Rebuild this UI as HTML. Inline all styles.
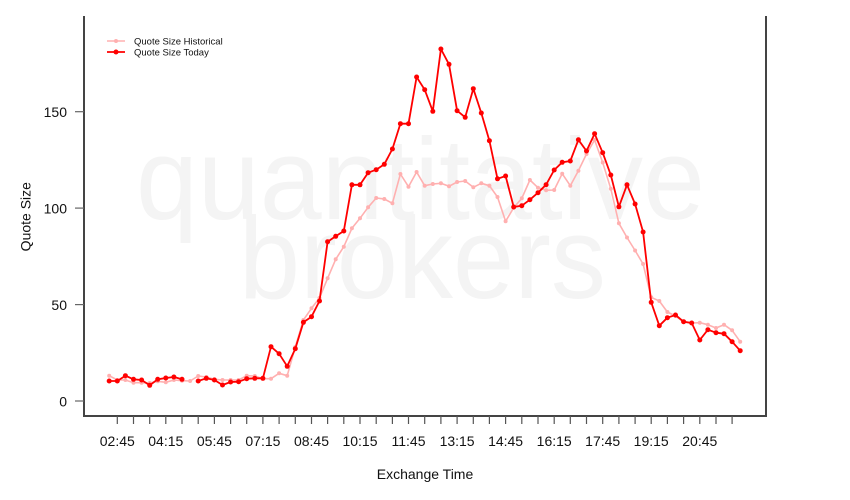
<!DOCTYPE html>
<html>
<head>
<meta charset="utf-8">
<style>
html,body{margin:0;padding:0;background:#fff;}
svg{display:block;font-family:"Liberation Sans",Arial,sans-serif;}
</style>
</head>
<body>
<svg width="850" height="500" viewBox="0 0 850 500" xmlns="http://www.w3.org/2000/svg">
<defs>
<marker id="mp" markerWidth="6" markerHeight="6" refX="3" refY="3" markerUnits="userSpaceOnUse"><circle cx="3" cy="3" r="2" fill="#ffb0b0"/></marker>
<marker id="mr" markerWidth="7" markerHeight="7" refX="3.5" refY="3.5" markerUnits="userSpaceOnUse"><circle cx="3.5" cy="3.5" r="2.5" fill="#ff0000"/></marker>
</defs>
<rect width="850" height="500" fill="#fff"/>
<!-- watermark -->
<text x="420.5" y="219" font-size="116" fill="#f4f4f4" text-anchor="middle" textLength="569" lengthAdjust="spacingAndGlyphs">quantitative</text>
<text x="422.4" y="298" font-size="116" fill="#f4f4f4" text-anchor="middle" textLength="367" lengthAdjust="spacingAndGlyphs">brokers</text>

<!-- historical -->
<polyline fill="none" stroke="#ffb0b0" stroke-width="1.6" stroke-linejoin="round" marker-start="url(#mp)" marker-mid="url(#mp)" marker-end="url(#mp)"
points="109.2,375.7 117.3,380 125.4,380 133.5,382.7 141.6,382.7 149.7,383 157.7,381.3 165.8,382.3 173.9,380 182,380.7 190.1,381 198.2,376 206.3,377 214.4,379.3 222.5,380 230.6,380 238.6,380 246.7,375.7 254.8,376 262.9,378.7 271,378.7 279.1,373.3 287.2,375.7 295.3,347 303.4,320 311.5,308.3 319.5,298 327.6,278.3 335.7,259.3 343.8,246.7 351.9,228.3 360,218.3 368.1,207.3 376.2,198 384.3,199 392.4,203.3 400.4,174 408.5,186.7 416.6,172 424.7,185.7 432.8,184 440.9,183.3 449,186.3 457.1,182 465.2,181 473.3,187.3 481.3,183.3 489.4,185.7 497.5,197 505.6,221.3 513.7,207.7 521.8,198.3 529.9,180 538,187.7 546.1,190.3 554.2,190 562.2,173.7 570.3,185.7 578.4,170.7 586.5,154 594.6,140 602.7,162.5 610.8,188.8 618.9,223.3 627,237.5 635.1,250.5 643.1,264 651.2,297.3 659.3,301 667.4,312 675.5,316 683.6,322 691.7,323 699.8,322.7 707.9,324.7 716,328 724,324.7 732.1,330.3 740.2,341.7"/>

<!-- today -->
<polyline fill="none" stroke="#ff0000" stroke-width="1.8" stroke-linejoin="round" marker-start="url(#mr)" marker-mid="url(#mr)" marker-end="url(#mr)"
points="109.2,381 117.3,381 125.4,375.7 133.5,379.3 141.6,380 149.7,385.3 157.7,379.3 165.8,378 173.9,377 182,379.3"/>
<polyline fill="none" stroke="#ff0000" stroke-width="1.8" stroke-linejoin="round" marker-start="url(#mr)" marker-mid="url(#mr)" marker-end="url(#mr)"
points="198.2,381 206.3,378.3 214.4,380 222.5,385 230.6,382 238.6,381.7 246.7,378.7 254.8,378.3 262.9,378.3 271,346.7 279.1,353.7 287.2,366.3 295.3,348.7 303.4,322.3 311.5,316.7 319.5,301 327.6,241.7 335.7,236.3 343.8,231 351.9,184.8 360,184.8 368.1,172.7 376.2,169.7 384.3,164.3 392.4,149 400.4,123.7 408.5,123.7 416.6,77 424.7,89.7 432.8,111.3 440.9,49 449,64.3 457.1,110.7 465.2,117.3 473.3,88.7 481.3,113 489.4,140.7 497.5,178.8 505.6,176 513.7,207 521.8,205.7 529.9,199.7 538,192.7 546.1,184.7 554.2,170 562.2,162.3 570.3,161 578.4,139.8 586.5,151 594.6,133.7 602.7,152.7 610.8,175 618.9,206.8 627,184.8 635.1,204 643.1,232 651.2,302.3 659.3,325.7 667.4,317.7 675.5,315 683.6,321.7 691.7,323 699.8,340 707.9,329.7 716,332.7 724,333.7 732.1,341.7 740.2,350.7"/>

<!-- axes -->
<g stroke="#444" stroke-width="2" fill="none">
<line x1="84" y1="16" x2="84" y2="416"/>
<line x1="766" y1="16" x2="766" y2="416"/>
<line x1="83" y1="416" x2="767" y2="416"/>
</g>
<!-- y ticks -->
<g stroke="#666" stroke-width="1.2">
<line x1="75" y1="401" x2="84" y2="401"/>
<line x1="75" y1="304.6" x2="84" y2="304.6"/>
<line x1="75" y1="208.1" x2="84" y2="208.1"/>
<line x1="75" y1="111.7" x2="84" y2="111.7"/>
</g>
<g font-size="14" fill="#111" text-anchor="end">
<text x="67" y="406.5">0</text>
<text x="67" y="310.1">50</text>
<text x="67" y="213.6">100</text>
<text x="67" y="117.2">150</text>
</g>
<!-- x ticks -->
<g stroke="#555" stroke-width="1.2">
<line x1="117.3" y1="416" x2="117.3" y2="424"/>
<line x1="133.5" y1="416" x2="133.5" y2="424"/>
<line x1="149.7" y1="416" x2="149.7" y2="424"/>
<line x1="165.8" y1="416" x2="165.8" y2="424"/>
<line x1="182" y1="416" x2="182" y2="424"/>
<line x1="198.2" y1="416" x2="198.2" y2="424"/>
<line x1="214.4" y1="416" x2="214.4" y2="424"/>
<line x1="230.6" y1="416" x2="230.6" y2="424"/>
<line x1="246.7" y1="416" x2="246.7" y2="424"/>
<line x1="262.9" y1="416" x2="262.9" y2="424"/>
<line x1="279.1" y1="416" x2="279.1" y2="424"/>
<line x1="295.3" y1="416" x2="295.3" y2="424"/>
<line x1="311.5" y1="416" x2="311.5" y2="424"/>
<line x1="327.6" y1="416" x2="327.6" y2="424"/>
<line x1="343.8" y1="416" x2="343.8" y2="424"/>
<line x1="360" y1="416" x2="360" y2="424"/>
<line x1="376.2" y1="416" x2="376.2" y2="424"/>
<line x1="392.4" y1="416" x2="392.4" y2="424"/>
<line x1="408.5" y1="416" x2="408.5" y2="424"/>
<line x1="424.7" y1="416" x2="424.7" y2="424"/>
<line x1="440.9" y1="416" x2="440.9" y2="424"/>
<line x1="457.1" y1="416" x2="457.1" y2="424"/>
<line x1="473.3" y1="416" x2="473.3" y2="424"/>
<line x1="489.4" y1="416" x2="489.4" y2="424"/>
<line x1="505.6" y1="416" x2="505.6" y2="424"/>
<line x1="521.8" y1="416" x2="521.8" y2="424"/>
<line x1="538" y1="416" x2="538" y2="424"/>
<line x1="554.2" y1="416" x2="554.2" y2="424"/>
<line x1="570.3" y1="416" x2="570.3" y2="424"/>
<line x1="586.5" y1="416" x2="586.5" y2="424"/>
<line x1="602.7" y1="416" x2="602.7" y2="424"/>
<line x1="618.9" y1="416" x2="618.9" y2="424"/>
<line x1="635.1" y1="416" x2="635.1" y2="424"/>
<line x1="651.2" y1="416" x2="651.2" y2="424"/>
<line x1="667.4" y1="416" x2="667.4" y2="424"/>
<line x1="683.6" y1="416" x2="683.6" y2="424"/>
<line x1="699.8" y1="416" x2="699.8" y2="424"/>
<line x1="716" y1="416" x2="716" y2="424"/>
<line x1="732.1" y1="416" x2="732.1" y2="424"/>
</g>
<g font-size="14" fill="#111" text-anchor="middle">
<text x="117.3" y="446">02:45</text>
<text x="165.8" y="446">04:15</text>
<text x="214.4" y="446">05:45</text>
<text x="262.9" y="446">07:15</text>
<text x="311.5" y="446">08:45</text>
<text x="360" y="446">10:15</text>
<text x="408.5" y="446">11:45</text>
<text x="457.1" y="446">13:15</text>
<text x="505.6" y="446">14:45</text>
<text x="554.2" y="446">16:15</text>
<text x="602.7" y="446">17:45</text>
<text x="651.2" y="446">19:15</text>
<text x="699.8" y="446">20:45</text>
</g>
<text x="425" y="479" font-size="14" fill="#111" text-anchor="middle">Exchange Time</text>
<text transform="translate(30.5,216.7) rotate(-90)" font-size="14" fill="#111" text-anchor="middle">Quote Size</text>

<!-- legend -->
<line x1="107" y1="41" x2="125" y2="41" stroke="#ffb0b0" stroke-width="1.6"/>
<circle cx="116" cy="41" r="2" fill="#ffb0b0"/>
<line x1="107" y1="52" x2="125" y2="52" stroke="#ff0000" stroke-width="1.8"/>
<circle cx="116" cy="52" r="2.5" fill="#ff0000"/>
<g font-size="9.5" fill="#111">
<text x="134" y="44.5">Quote Size Historical</text>
<text x="134" y="55.7">Quote Size Today</text>
</g>
</svg>
</body>
</html>
